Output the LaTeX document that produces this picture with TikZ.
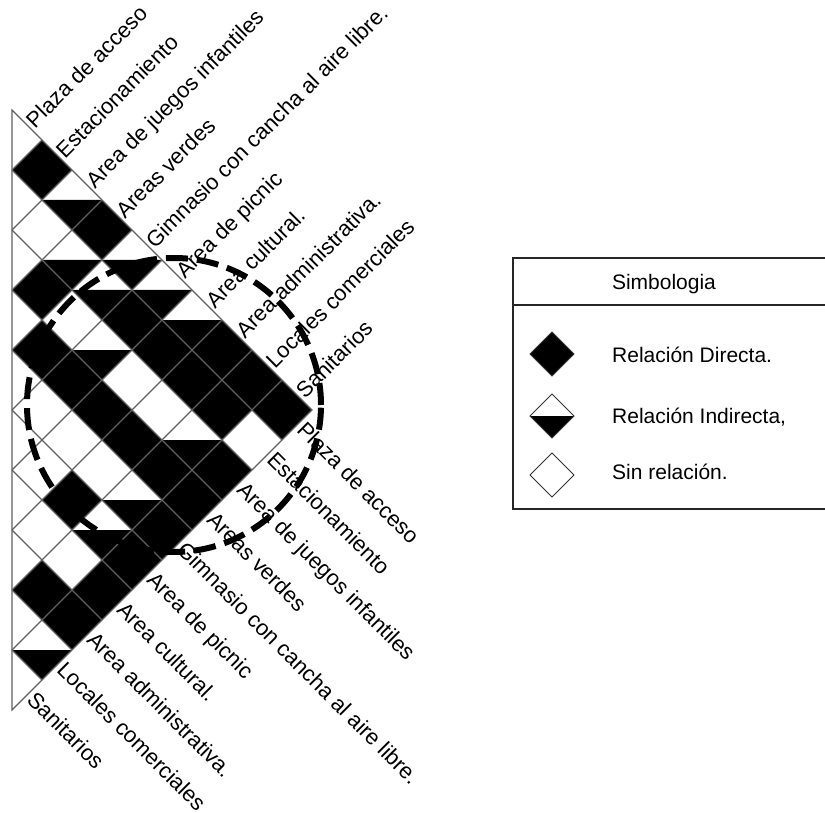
\documentclass[tikz,border=0pt]{standalone}
\usepackage{fontspec}
\setmainfont{Liberation Sans}
\begin{document}
\begin{tikzpicture}[x=1pt,y=-1pt,
  gridline/.style={draw=black!62, line width=1.2pt},
  lbl/.style={font=\fontsize{22}{25}\selectfont, inner sep=2pt, text height=15pt, text depth=4.5pt},
  legtxt/.style={font=\fontsize{21}{24}\selectfont, inner sep=0pt},
  ring/.style={draw=black, line width=6pt, dash pattern=on 22pt off 9pt},
  legbox/.style={draw=black!85, line width=1.6pt},
  legmark/.style={draw=black!80, line width=0.9pt}]
\useasboundingbox (0,0) rectangle (825,813);
\fill[white] (0,0) rectangle (825,813);

% direct relations (black diamonds)
\foreach \i/\j in {0/1,0/3,0/7,0/8,0/9,1/5,1/6,1/7,1/8,2/3,2/9,3/4,3/5,3/6,3/7,3/8,3/9,4/9,5/7,5/9,6/9,7/8,7/9}
  \fill[black] ({12+30*(\j-\i)-30},{110+30*(\i+\j+1)}) -- ++(30,-30) -- ++(30,30) -- ++(-30,30) -- cycle;
% indirect relations (lower half black)
\foreach \i/\j in {0/2,0/4,0/5,0/6,1/3,1/4,2/5,2/8,4/8,5/8,8/9}
  \fill[black] ({12+30*(\j-\i)-30},{110+30*(\i+\j+1)}) -- ++(60,0) -- ++(-30,30) -- cycle;

% grid
\foreach \k in {1,...,9}{
  \draw[gridline] (12,{110+60*\k}) -- ({312-30*\k},{410+30*\k});
  \draw[gridline] (12,{110+60*\k}) -- ({12+30*\k},{110+30*\k});
}
\draw[gridline] (12,110) -- (312,410) -- (12,710) -- cycle;

% labels
\foreach \n [count=\c] in {Plaza de acceso,Estacionamiento,Area de juegos infantiles,Areas verdes,Gimnasio con cancha al aire libre.,Area de picnic,Area cultural.,Area administrativa.,Locales comerciales,Sanitarios}{
  \pgfmathtruncatemacro\i{\c-1}
  \node[lbl, anchor=west, rotate=45] (t\i) at ({30+30*\i},{127+30*\i}) {\n};
  \node[lbl, anchor=west, rotate=-45] (b\i) at ({298-30*\i},{426+30*\i}) {\n};
}

% dashed circle
\node[ring, circle, minimum size=294pt, inner sep=0pt] (zone) at (174,405) {};

% legend
\draw[legbox] (830,258) -- (513,258) -- (513,509) -- (830,509);
\draw[legbox] (513,305) -- (830,305);
\node[legtxt, anchor=base] (simb) at (664,290) {Simbologia};

\fill[black] (530,354) -- (552,332) -- (574,354) -- (552,376) -- cycle;
\draw[legmark] (530,354) -- (552,332) -- (574,354) -- (552,376) -- cycle;
\fill[black] (530,416) -- (574,416) -- (552,438) -- cycle;
\draw[legmark] (530,416) -- (552,394) -- (574,416) -- (552,438) -- cycle;
\draw[legmark] (530,475) -- (552,453) -- (574,475) -- (552,497) -- cycle;

\node[legtxt, anchor=base west] (ld) at (612,362) {Relación Directa.};
\node[legtxt, anchor=base west] (li) at (612,423) {Relación Indirecta,};
\node[legtxt, anchor=base west] (ln) at (612,479) {Sin relación.};
\end{tikzpicture}
\end{document}
